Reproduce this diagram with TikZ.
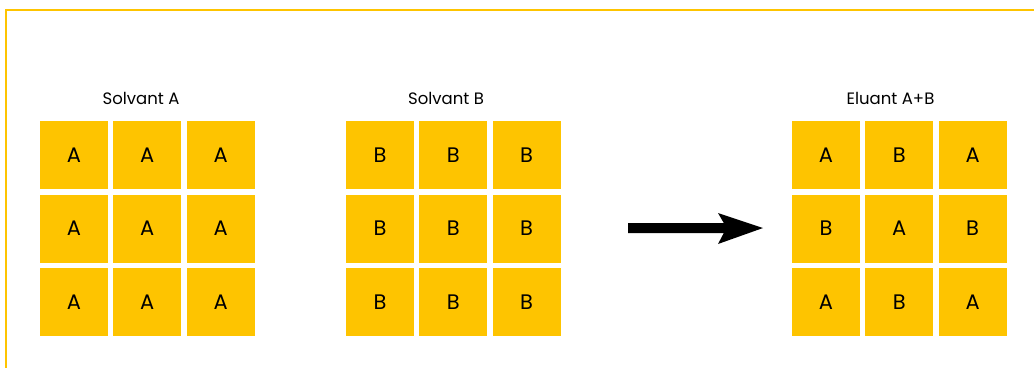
\documentclass[tikz,border=0pt]{standalone}
\usepackage{fontspec}
\setmainfont{Poppins}
\definecolor{gold}{RGB}{254,196,0}
\begin{document}
\begin{tikzpicture}[x=1pt,y=-1pt,
  cell/.style={fill=gold, minimum width=68pt, minimum height=68pt, inner sep=0pt,
    font=\fontsize{21}{24}\selectfont, text=black},
  title/.style={font=\fontsize{16.5}{18}\selectfont, anchor=base, inner sep=0pt},
  frame/.style={draw=gold, line width=2.2pt}]
\useasboundingbox (0,0) rectangle (1034,368);
% frame (open at right and bottom)
\coordinate (ftr) at (1034,10.2);
\coordinate (ftl) at (6,10.2);
\coordinate (fbl) at (6,368);
\draw[frame] (ftr) -- (ftl) -- (fbl);
% grids
\foreach \r in {0,1,2} {
  \foreach \c in {0,1,2} {
    \node[cell] (a\r\c) at ({74+73.3*\c},{155+73.5*\r}) {A};
    \node[cell] (b\r\c) at ({380+73.3*\c},{155+73.5*\r}) {B};
    \pgfmathtruncatemacro\myparity{mod(\r+\c,2)}
    \node[cell] (e\r\c) at ({826+73.3*\c},{155+73.5*\r}) {\ifnum\myparity=0 A\else B\fi};
  }
}
% titles
\node[title] (ta) at (141,104) {Solvant A};
\node[title] (tb) at (446,104) {Solvant B};
\node[title] (te) at (890.5,104) {Eluant A+B};
% arrow
\coordinate (as) at (628,228);
\coordinate (ae) at (763,228);
\fill[black] (628,223) -- (723.8,223) -- (718,213) -- (ae) -- (718,244) -- (723.8,233) -- (628,233) -- cycle;
\end{tikzpicture}
\end{document}
